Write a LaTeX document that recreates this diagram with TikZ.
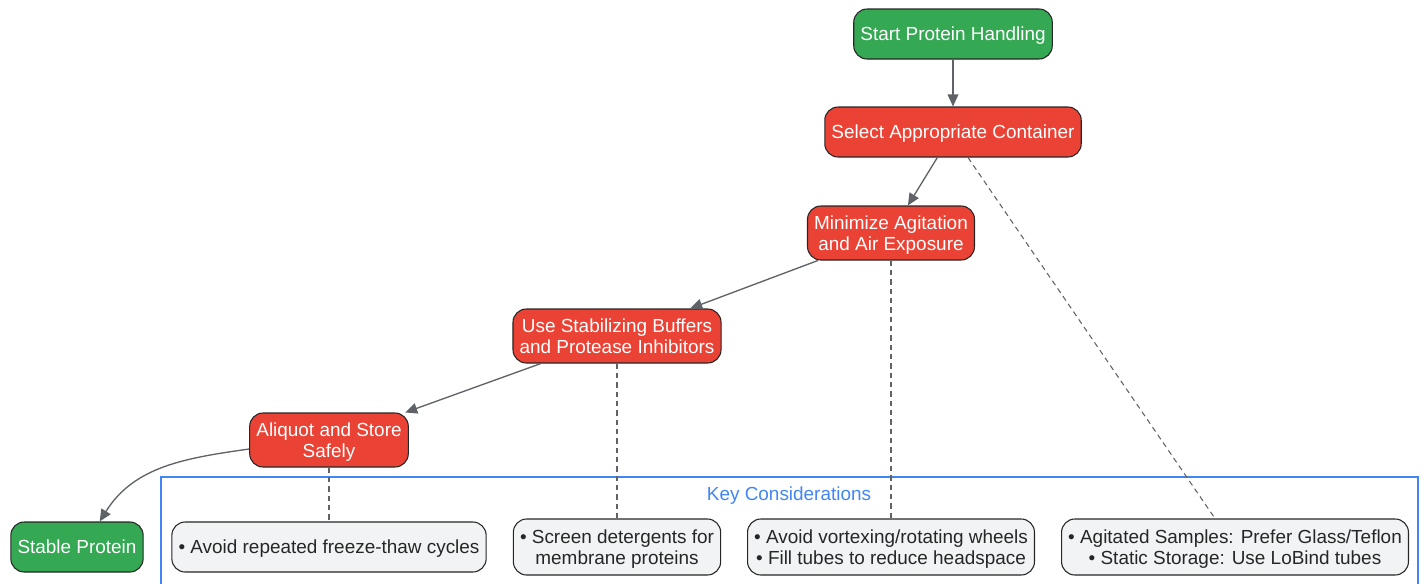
\documentclass[tikz,border=0pt]{standalone}
\usepackage{fontspec}
\setmainfont{Liberation Sans}
\usetikzlibrary{positioning,arrows.meta}
\definecolor{stepred}{HTML}{EA4335}
\definecolor{endgreen}{HTML}{34A853}
\definecolor{notegray}{HTML}{F1F3F4}
\definecolor{keyblue}{HTML}{4285F4}
\definecolor{linkgray}{HTML}{5F6368}

\begin{document}
\begin{tikzpicture}
  [x=0.75pt, y=-0.75pt,
   every node/.style={rounded corners=10pt, draw=black!85, line width=0.8pt, align=center,
     inner xsep=5pt, text depth=0pt, font=\fontsize{14.2}{16}\selectfont, on grid},
   endbox/.style={fill=endgreen, text=white, minimum height=37.5pt},
   stepbox/.style={fill=stepred, text=white, minimum height=40.5pt},
   notebox/.style={fill=notegray, text=black!85, minimum height=37.5pt},
   flow/.style={draw=linkgray, line width=1pt, -{Triangle[length=9pt,width=8pt]}},
   link/.style={draw=linkgray, line width=0.8pt, dash pattern=on 4pt off 3pt}]
  \useasboundingbox (0,0) rectangle (1423,583);

  % cluster
  \draw[keyblue, line width=0.8pt] (161,477) rectangle (1418,600);
  \node[draw=none, text=keyblue] (key) at (789,494) {Key Considerations};

  \node[endbox] (start) at (953,34) {Start Protein Handling};
  \node[stepbox, minimum height=37.5pt] (select) [below=73.5pt of start] {Select Appropriate Container};
  \node[stepbox] (minimize) [below left=75.75pt and 46.5pt of select] {Minimize Agitation\\and Air Exposure};
  \node[stepbox] (buffers) [below left=77.25pt and 205.5pt of minimize] {Use Stabilizing Buffers\\and Protease Inhibitors};
  \node[stepbox] (aliquot) [below left=78pt and 216pt of buffers] {Aliquot and Store\\Safely};
  \node[endbox] (stable) [below left=80.25pt and 189pt of aliquot] {Stable Protein};

  \node[notebox] (freeze) [below=80.25pt of aliquot] {• Avoid repeated freeze-thaw cycles};
  \node[notebox, minimum height=42pt] (deterg) [below=158.25pt of buffers] {• Screen detergents for\\membrane proteins};
  \node[notebox, minimum height=42pt] (vortex) [below=235.5pt of minimize] {• Avoid vortexing/rotating wheels\\• Fill tubes to reduce headspace};
  \node[notebox, minimum height=42pt] (glass) [right=258pt of vortex] {• Agitated Samples: Prefer Glass/Teflon\\• Static Storage: Use LoBind tubes};

  \draw[flow] (start) -- (select);
  \draw[flow] (select) -- (minimize);
  \draw[flow] (minimize) -- (buffers);
  \draw[flow] (buffers) -- (aliquot);
  \draw[flow] ([yshift=-6.75pt]aliquot.west) to[out=188,in=58] ([xshift=17pt]stable.north);

  \draw[link] ([xshift=11.25pt]select.south) -- ([xshift=-15pt]glass.north);
  \draw[link] (minimize) -- (vortex);
  \draw[link] (buffers) -- (deterg);
  \draw[link] (aliquot) -- (freeze);
\end{tikzpicture}
\end{document}
